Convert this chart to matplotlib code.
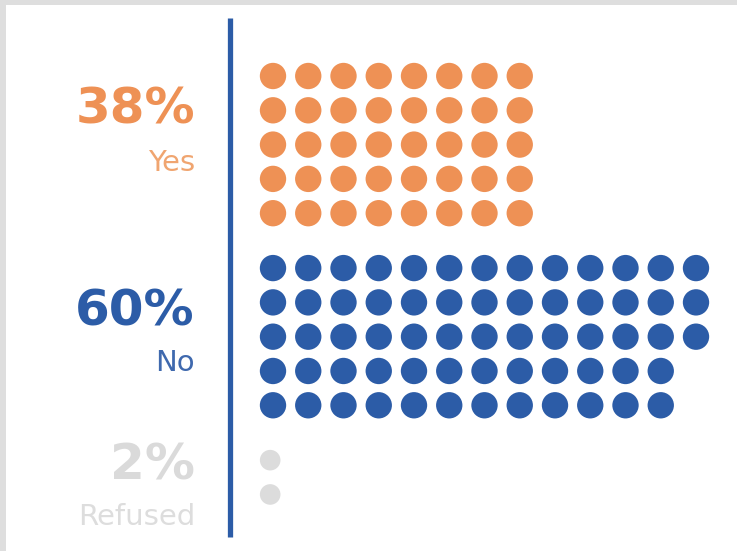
import matplotlib
matplotlib.use("Agg")
import matplotlib.pyplot as plt
from matplotlib.patches import Rectangle
from matplotlib.lines import Line2D

# ---- data ----
categories = ["Yes", "No", "Refused"]
percents = [38, 60, 2]
yes_rows = [8, 8, 8, 8, 8]
no_rows = [13, 13, 13, 12, 12]
refused_rows = [1, 1]
colors = ["#EE9155", "#2C5CA7", "#DCDCDC"]
label_colors = ["#EE9155", "#2C5CA7", "#DADADA"]
sub_colors = ["#F0A570", "#3F69AE", "#DDDDDD"]

rows_by_cat = [yes_rows, no_rows, refused_rows]

W, H, DPI = 737, 551, 100
fig = plt.figure(figsize=(W / DPI, H / DPI), dpi=DPI)
fig.patch.set_facecolor("white")

# grey frame (top and left)
fig.add_artist(Rectangle((0, 1 - 5 / H), 1, 5 / H, transform=fig.transFigure,
                         color="#DEDEDE", lw=0, zorder=0))
fig.add_artist(Rectangle((0, 0), 6 / W, 1, transform=fig.transFigure,
                         color="#DEDEDE", lw=0, zorder=0))

ax = fig.add_axes([0, 0, 1, 1])
ax.set_axis_off()
col_px, row_px = 35.25, 34.3
x0_px, y0_px = 273, 76
ax.set_xlim(-x0_px / col_px, (W - x0_px) / col_px)
ax.set_ylim((H - y0_px) / row_px, -y0_px / row_px)

group_step = 5.6
for gi, rows in enumerate(rows_by_cat):
    xs, ys = [], []
    for ri, n in enumerate(rows):
        for ci in range(n):
            xs.append(ci)
            ys.append(gi * group_step + ri)
    size = 360 if gi < 2 else 220
    xs_plot = [x - (0.08 if gi == 2 else 0) for x in xs]
    ax.scatter(xs_plot, ys, s=size, color=colors[gi], edgecolors="none", zorder=3)

# vertical rule
fig.add_artist(Line2D([230 / W, 230 / W], [1 - 18 / H, 1 - 537 / H],
                      transform=fig.transFigure, color="#2C5CA7", lw=3.8,
                      solid_capstyle="butt"))

pct_y = [110, 312, 466]
lab_y = [163, 363, 517]
x_right = 195 / W
for i, cat in enumerate(categories):
    fig.text(x_right, 1 - pct_y[i] / H, f"{percents[i]}%", ha="right", va="center",
             fontsize=36, fontweight="bold", color=label_colors[i],
             family=["DejaVu Sans"])
    fig.text(x_right, 1 - lab_y[i] / H, cat, ha="right", va="center",
             fontsize=21, fontweight="normal", color=sub_colors[i],
             family=["DejaVu Sans"])

fig.savefig("out.png", dpi=DPI)
